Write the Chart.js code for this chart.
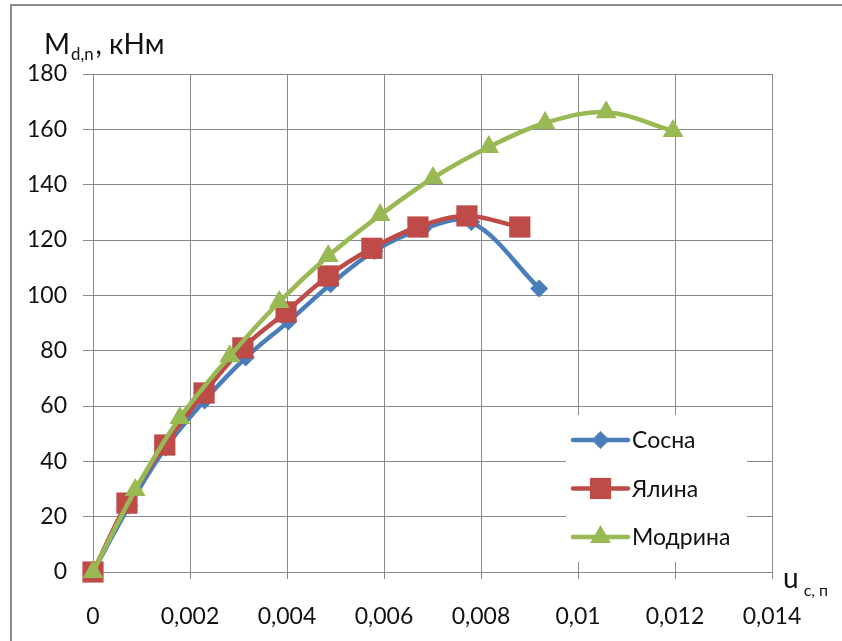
<!DOCTYPE html>
<html>
<head>
<meta charset="utf-8">
<script src="https://cdn.jsdelivr.net/npm/chart.js@4.4.0/dist/chart.umd.min.js"></script>
<style>
html,body{margin:0;padding:0;background:#fff;}
#wrap{position:relative;width:842px;height:641px;overflow:hidden;background:#fff;}
#c{position:absolute;left:0;top:0;}
.frame{position:absolute;left:10px;top:4px;width:900px;height:700px;border-left:2px solid #8c8c8c;border-top:2px solid #8c8c8c;}
.ttl{position:absolute;font-family:Lato,"Open Sans",sans-serif;color:#111;white-space:nowrap;line-height:1;}
.ttl sub{font-size:0.6em;vertical-align:-0.35em;}
</style>
</head>
<body>
<div id="wrap">
  <div class="frame"></div>
  <canvas id="c" width="842" height="641"></canvas>
  <div class="ttl" style="left:44px;top:29px;font-size:28px;">M<sub style="margin-left:1px;margin-right:2px;">d,n</sub>, кНм</div>
  <div class="ttl" style="left:783px;top:563px;font-size:28px;">u<sub style="font-size:16px;vertical-align:-0.5em;margin-left:5px;">c, п</sub></div>
</div>
<script>
// ---- data ----
const seriesNames = ['Сосна', 'Ялина', 'Модрина'];
const sosnaX   = [0, 0.00075, 0.0015, 0.0023, 0.00315, 0.00403, 0.0049, 0.0058, 0.0068, 0.0078, 0.0092];
const sosnaY   = [0, 24, 45, 62, 77.5, 90.5, 104, 116, 124, 126.5, 102.5];
const yalynaX  = [0, 0.0007, 0.00148, 0.00229, 0.00309, 0.00398, 0.00485, 0.00575, 0.0067, 0.00771, 0.0088];
const yalynaY  = [0, 24.9, 45.9, 64.7, 81, 94, 107, 117, 124.7, 128.7, 124.7];
const modrynaX = [0, 0.00087, 0.00179, 0.00282, 0.00384, 0.00485, 0.00592, 0.00701, 0.00816, 0.00932, 0.01058, 0.01196];
const modrynaY = [0, 29.6, 55.7, 78, 97.6, 114.2, 129, 142.4, 153.6, 162.3, 166.2, 159.4];
const xTicks = [0, 0.002, 0.004, 0.006, 0.008, 0.01, 0.012, 0.014];
const yTicks = [0, 20, 40, 60, 80, 100, 120, 140, 160, 180];

const colors = ['#4a7ebb', '#be4b48', '#98b954'];
const styles = ['rectRot', 'rect', 'triangle'];
const radii = [9, 15, 12];

function pts(xs, ys){ return xs.map((x,i)=>({x:x, y:ys[i]})); }
const allSeries = [pts(sosnaX,sosnaY), pts(yalynaX,yalynaY), pts(modrynaX,modrynaY)];

const FONT = 'Lato, "Open Sans", sans-serif';

const legendPlugin = {
  id: 'boxLegend',
  beforeDatasetsDraw(chart){
    const ctx = chart.ctx, a = chart.chartArea;
    ctx.save();
    ctx.fillStyle = '#fff';
    ctx.fillRect(a.right - 206, a.bottom - 157, 181, 147);
    ctx.restore();
  },
  afterDatasetsDraw(chart){
    const ctx = chart.ctx, a = chart.chartArea;
    const x0 = a.right - 199, x1 = a.right - 144, xm = (x0 + x1) / 2;
    chart.data.datasets.forEach((ds, i) => {
      const y = a.bottom - 132 + i * 48.5;
      ctx.save();
      ctx.strokeStyle = ds.borderColor;
      ctx.lineWidth = ds.borderWidth;
      ctx.lineCap = 'round';
      ctx.beginPath(); ctx.moveTo(x0, y); ctx.lineTo(x1, y); ctx.stroke();
      ctx.fillStyle = ds.pointBackgroundColor;
      ctx.strokeStyle = ds.pointBorderColor;
      Chart.helpers.drawPoint(ctx, {pointStyle: ds.pointStyle, radius: ds.pointRadius, rotation: 0, borderWidth: 0}, xm, y);
      ctx.fillStyle = '#111';
      ctx.font = '23px ' + FONT;
      ctx.textBaseline = 'middle';
      ctx.textAlign = 'left';
      ctx.fillText(ds.label, x1 + 4, y + 1);
      ctx.restore();
    });
  }
};

const fmt = v => String(Number(v.toFixed(4))).replace('.', ',');

new Chart(document.getElementById('c'), {
  type: 'scatter',
  data: {
    datasets: allSeries.map((d, i) => ({
      label: seriesNames[i],
      data: d,
      showLine: true,
      clip: false,
      tension: 0.35,
      borderColor: colors[i],
      borderWidth: 4.5,
      pointStyle: styles[i],
      pointRadius: radii[i],
      pointHoverRadius: radii[i],
      pointBackgroundColor: colors[i],
      pointBorderColor: colors[i],
      pointBorderWidth: 0,
      order: 3 - i
    }))
  },
  options: {
    responsive: false,
    animation: false,
    events: [],
    layout: { padding: { left: 0, top: 74, right: 70, bottom: 0 } },
    plugins: { legend: { display: false }, tooltip: { enabled: false } },
    scales: {
      x: {
        type: 'linear', min: 0, max: 0.014,
        afterFit: s => { s.height = 69; },
        afterBuildTicks: s => { s.ticks = xTicks.map(v => ({value: v})); },
        grid: { color: '#8a8a8a', lineWidth: 1, tickLength: 7, drawTicks: true },
        border: { color: '#8a8a8a', width: 1 },
        ticks: { color: '#111', font: { family: FONT, size: 23 }, padding: 24, callback: v => fmt(v), maxRotation: 0, autoSkip: false }
      },
      y: {
        type: 'linear', min: 0, max: 180,
        afterFit: s => { s.width = 93; },
        afterBuildTicks: s => { s.ticks = yTicks.map(v => ({value: v})); },
        grid: { color: '#8a8a8a', lineWidth: 1, tickLength: 10 },
        border: { color: '#8a8a8a', width: 1 },
        ticks: { color: '#111', font: { family: FONT, size: 23 }, padding: 16, callback: v => String(v) }
      }
    }
  },
  plugins: [legendPlugin]
});
</script>
</body>
</html>
